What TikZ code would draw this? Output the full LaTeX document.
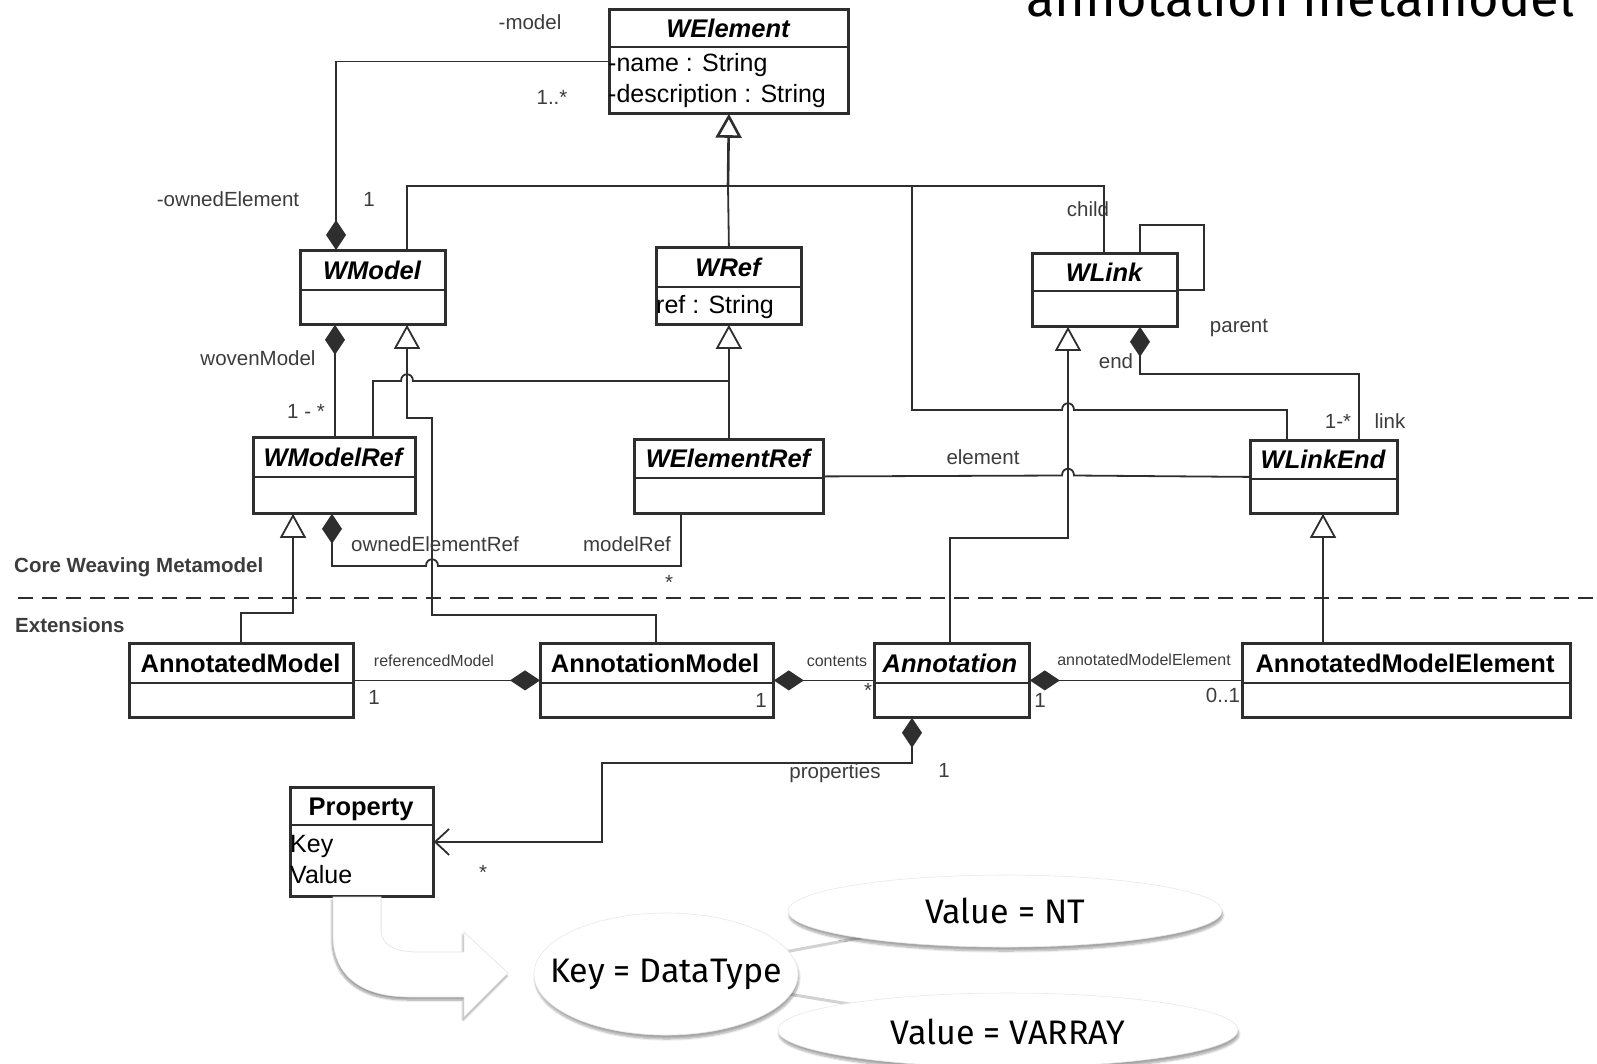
\documentclass[tikz,border=0pt]{standalone}
\usepackage{fontspec}
\setmainfont{Liberation Sans}
\newfontfamily\handfont{Fira Sans}
\usetikzlibrary{arrows.meta,shapes.geometric,shadows.blur}

\definecolor{linec}{HTML}{2E2E2E}
\definecolor{labc}{HTML}{3C3C3C}

\tikzset{
  uline/.style={draw=linec, line width=1.8pt},
  umlbox/.style={draw=linec, line width=1.8pt, fill=white, inner sep=0pt, anchor=north west},
  ctitle/.style={font=\fontsize{25.5}{30}\selectfont\bfseries, text=black, inner sep=0pt, text height=18pt, text depth=0pt},
  atitle/.style={font=\fontsize{25.5}{30}\selectfont\bfseries\itshape, text=black, inner sep=0pt, text height=18pt, text depth=0pt},
  attr/.style={font=\fontsize{25}{30}\selectfont, text=black, inner sep=0pt, anchor=west, text height=17.5pt, text depth=0pt},
  lab/.style={font=\fontsize{20.5}{24}\selectfont, text=labc, inner sep=0pt, text height=14.5pt, text depth=0pt},
  small/.style={font=\fontsize{16}{19}\selectfont, text=labc, inner sep=0pt, text height=11.5pt, text depth=0pt},
  sect/.style={font=\fontsize{20.5}{24}\selectfont\bfseries, text=labc, inner sep=0pt, anchor=west, text height=15pt, text depth=0pt},
  gen/.style={-{Triangle[width=26pt,length=24pt,fill=white]}},
  comp/.style={{Diamond[width=20pt,length=30pt]}-},
  compend/.style={-{Diamond[width=20pt,length=30pt]}},
  bubble/.style={ellipse, fill=white, draw=gray!18, line width=0.6pt, inner sep=0pt,
    blur shadow={shadow xshift=1pt, shadow yshift=-4pt, shadow blur steps=8, shadow opacity=35}},
  bubbletext/.style={font=\handfont\fontsize{34}{40}\selectfont, text=black, inner sep=0pt},
}

% class box: name, left, top, right, separator, bottom
\newcommand\umlbox[6]{%
  \node[umlbox, minimum width={#4pt-#2pt}, minimum height={#6pt-#3pt}] (#1) at (#2,#3) {};
  \draw[uline] (#2,#5) -- (#4,#5);
}
% bridge of a horizontal line over a vertical one at x = #1, y = #2
\newcommand\hop[2]{-- ({#1-6},#2) .. controls ({#1-6},{#2-9}) and ({#1+6},{#2-9}) .. ({#1+6},#2)}

\begin{document}
\begin{tikzpicture}[x=1pt, y=-1pt]
\useasboundingbox (0,0) rectangle (1597,1063);
\clip (0,0) rectangle (1597,1063);

% heading
\node[anchor=base west, inner sep=0pt] (heading) at (1026,16)
  {\resizebox{548pt}{!}{\handfont annotation metamodel}};

% ---------- connectors (drawn below the boxes) ----------
\coordinate (bus) at (728,186);
\coordinate (busfork) at (912,186);
\coordinate (refjoin) at (728,381);

% core weaving metamodel
\umlbox{welement}{609}{9}{847}{47}{112}
\umlbox{wmodel}{300}{250}{444}{290}{323}
\umlbox{wref}{656}{247}{800}{287}{323}
\umlbox{wlink}{1032}{253}{1176}{291}{325}
\umlbox{wmodelref}{253}{437}{414}{477}{512}
\umlbox{welementref}{634}{439}{822}{478}{512}
\umlbox{wlinkend}{1250}{440}{1396}{479}{512}

% extensions
\umlbox{annotatedmodel}{129}{643}{352}{683}{716}
\umlbox{annotationmodel}{540}{643}{772}{683}{716}
\umlbox{annotation}{874}{643}{1028}{683}{716}
\umlbox{annotatedelement}{1242}{643}{1569}{683}{716}
\umlbox{property}{290}{787}{432}{825}{895}

% generalisations towards WElement
\draw[uline] ([xshift=107pt]wmodel.north west) |- (bus);
\draw[uline] (wref.north) -- (bus);
\draw[uline] ([xshift=72pt]wlink.north west) |- (bus);
\draw[uline, line width=2.6pt, gen] (bus) -- (welement.south);
\draw[uline] (busfork) -- (912,410) \hop{1068}{410} -- (1287,410) -- ([xshift=37pt]wlinkend.north west);

% WModel owns WElement
\draw[uline, comp] ([xshift=36pt]wmodel.north west) |- (welement.west);

% WLink parent/child loop
\draw[uline] ([xshift=108pt]wlink.north west) |- (1204,225) |- (wlink.east);

% WModel woven model
\draw[uline, comp] ([xshift=35pt]wmodel.south west) -- ([xshift=82pt]wmodelref.north west);

% WModelRef and WElementRef specialise WRef
\draw[uline] ([xshift=120pt]wmodelref.north west) -- (373,381) \hop{407}{381} -- (refjoin);
\draw[uline, gen] (welementref.north) -- (wref.south);

% AnnotationModel specialises WModel
\draw[uline, gen] ([xshift=116pt]annotationmodel.north west) -- (656,615) -- (432,615)
  -- (432,418) -- (407,418) -- ([xshift=107pt]wmodel.south west);

% WModelRef owns WElementRef
\draw[uline, comp] ([xshift=79pt]wmodelref.south west) -- (332,566) \hop{432}{566}
  -- (681,566) -- ([xshift=47pt]welementref.south west);

% AnnotatedModel specialises WModelRef
\draw[uline, gen] ([xshift=112pt]annotatedmodel.north west) -- (241,613) -- (293,613)
  -- ([xshift=40pt]wmodelref.south west);

% element association
\draw[uline] (welementref.east) \hop{1068}{475.5} -- (wlinkend.west);

% Annotation specialises WLink
\draw[uline, gen] ([xshift=76pt]annotation.north west) -- (950,538) -- (1068,538)
  -- ([xshift=36pt]wlink.south west);

% WLink owns WLinkEnd
\draw[uline, comp] ([xshift=108pt]wlink.south west) |- (1359,374)
  -- ([xshift=109pt]wlinkend.north west);

% AnnotatedModelElement specialises WLinkEnd
\draw[uline, gen] ([xshift=81pt]annotatedelement.north west) -- ([xshift=73pt]wlinkend.south west);

% extension associations
\draw[uline, compend] (annotatedmodel.east) -- (annotationmodel.west);
\draw[uline, comp] (annotationmodel.east) -- (annotation.west);
\draw[uline, comp] (annotation.east) -- (annotatedelement.west);
\draw[uline, {Diamond[width=20pt,length=30pt]}-{Straight Barb[length=14pt,width=26pt]}]
  ([xshift=38pt]annotation.south west) |- (602,763) |- (property.east);

% box outlines again on top of the line ends
\foreach \b in {welement,wmodel,wref,wlink,wmodelref,welementref,wlinkend,
                annotatedmodel,annotationmodel,annotation,annotatedelement,property}{
  \draw[uline, fill=none] (\b.north west) rectangle (\b.south east);
}

% separator between core and extensions
\draw[linec, line width=1.8pt, dash pattern=on 15pt off 9pt] (18,598) -- (1597,598);

% ---------- class texts ----------
\node[atitle] (welement-t) at (728,28) {WElement};
\node[attr] (welement-a1) at (608,62.5) {-name : String};
\node[attr] (welement-a2) at (608,94) {-description : String};
\node[atitle] (wmodel-t) at (372,270) {WModel};
\node[atitle] (wref-t) at (728,267) {WRef};
\node[attr] (wref-a1) at (656,305) {ref : String};
\node[atitle] (wlink-t) at (1104,272) {WLink};
\node[atitle] (wmodelref-t) at (333,457) {WModelRef};
\node[atitle] (welementref-t) at (728,458.5) {WElementRef};
\node[atitle] (wlinkend-t) at (1323,459.5) {WLinkEnd};
\node[ctitle] (annotatedmodel-t) at (240.5,663) {AnnotatedModel};
\node[ctitle] (annotationmodel-t) at (655,663) {AnnotationModel};
\node[atitle] (annotation-t) at (950,663) {Annotation};
\node[ctitle] (annotatedelement-t) at (1405,663) {AnnotatedModelElement};
\node[ctitle] (property-t) at (361,806) {Property};
\node[attr] (property-a1) at (290,844) {Key};
\node[attr] (property-a2) at (290,875) {Value};

% ---------- role names and multiplicities ----------
\node[lab] (l-model) at (530,22) {-model};
\node[lab] (l-m1) at (552,97) {1..*};
\node[lab] (l-owned) at (228,199) {-ownedElement};
\node[lab] (l-o1) at (369,199) {1};
\node[lab] (l-woven) at (258,358) {wovenModel};
\node[lab] (l-w1) at (306,411) {1 - *};
\node[lab] (l-oer) at (435,544) {ownedElementRef};
\node[lab] (l-mref) at (627,544) {modelRef};
\node[lab] (l-mstar) at (669,582) {*};
\node[lab] (l-elem) at (983,457) {element};
\node[lab] (l-child) at (1088,209) {child};
\node[lab] (l-parent) at (1239,325) {parent};
\node[lab] (l-end) at (1116,361) {end};
\node[lab] (l-l1) at (1338,421) {1-*};
\node[lab] (l-link) at (1390,421) {link};
\node[small] (l-refm) at (434,661) {referencedModel};
\node[lab] (l-r1) at (374,697) {1};
\node[lab] (l-am1) at (761,700) {1};
\node[small] (l-cont) at (837,661) {contents};
\node[lab] (l-cstar) at (868,690) {*};
\node[small] (l-ame) at (1144,660) {annotatedModelElement};
\node[lab] (l-a1) at (1040,700) {1};
\node[lab] (l-a01) at (1223,695) {0..1};
\node[lab] (l-props) at (835,771) {properties};
\node[lab] (l-p1) at (944,770) {1};
\node[lab] (l-pstar) at (483,872) {*};

\node[sect] (core) at (14,565) {Core Weaving Metamodel};
\node[sect] (ext) at (15,625) {Extensions};

% ---------- example key / value ----------
\path[fill=white, draw=gray!22, line width=0.6pt,
      blur shadow={shadow xshift=-1pt, shadow yshift=-3pt, shadow blur steps=8, shadow opacity=40}]
  (333,897) -- (333,935) .. controls (333,975) and (360,997) .. (410,997) -- (464,997)
  -- (464,1017) -- (508,973) -- (464,932) -- (464,952) -- (418,952)
  .. controls (395,952) and (381,945) .. (381,930) -- (381,897) -- cycle;

\coordinate (keyc) at (666,974);
\coordinate (ntc) at (1005,911);
\coordinate (varc) at (1008,1030);
\draw[gray!35, line width=3pt] (keyc) -- (ntc);
\draw[gray!35, line width=3pt] (keyc) -- (varc);
\node[bubble, minimum width=434pt, minimum height=72pt] (nt) at (ntc) {};
\node[bubble, minimum width=460pt, minimum height=74pt] (varray) at (varc) {};
\node[bubble, minimum width=264pt, minimum height=122pt] (key) at (keyc) {};
\node[bubbletext] (nt-t) at (nt.center) {Value = NT};
\node[bubbletext] (varray-t) at ([yshift=-2pt]varray.center) {Value = VARRAY};
\node[bubbletext] (key-t) at (key.center) {Key = DataType};
\end{tikzpicture}
\end{document}
